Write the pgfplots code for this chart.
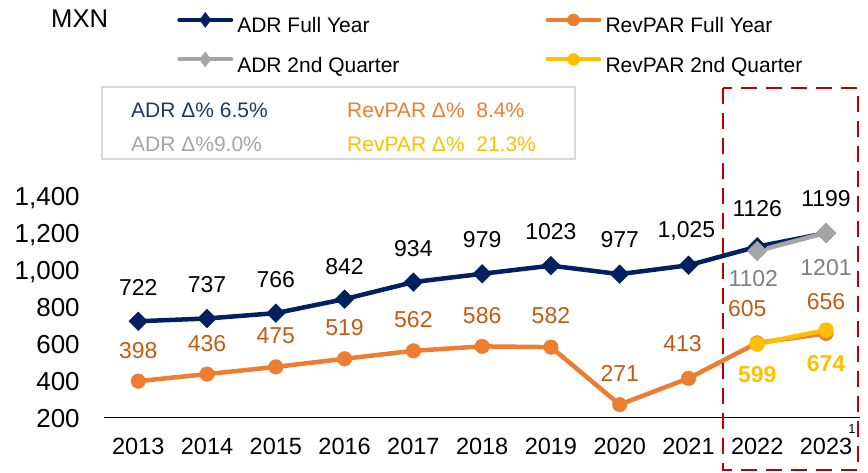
\documentclass[border=0pt]{standalone}
\usepackage{fontspec}
\setmainfont{Liberation Sans}
\usepackage{pgfplots}
\usepackage{pgfplotstable}
\pgfplotsset{compat=1.18}
\definecolor{navy}{HTML}{002060}
\definecolor{orng}{HTML}{ED7D31}
\definecolor{orngdark}{HTML}{C55A11}
\definecolor{gry}{HTML}{A5A5A5}
\definecolor{gryd}{HTML}{808080}
\definecolor{yel}{HTML}{FFC000}
\definecolor{redd}{HTML}{C00000}
\definecolor{boxgray}{HTML}{D9D9D9}
\definecolor{boxnavy}{HTML}{203864}

\pgfplotstableread{
x y label dx dy
0 722 722 0 34
1 737 737 0 34
2 766 766 0 34
3 842 842 0 33
4 934 934 0 34
5 979 979 0 34
6 1023 1023 0 34
7 977 977 0 35
8 1025 1,025 -2 34
9 1126 1126 0 38
10 1199 1199 0 35
}\adrfy

\pgfplotstableread{
x y label dx dy
0 398 398 0 31
1 436 436 0 31
2 475 475 0 31
3 519 519 0 31
4 562 562 0 31
5 586 586 0 31
6 582 582 0 32
7 271 271 0 31
8 413 413 -6 35
9 605 605 -10 34
10 656 656 0 32
}\revfy

\pgfplotstableread{
x y label dx dy
9 1102 1102 -4 -28
10 1201 1201 0 -35
}\adrq

\pgfplotstableread{
x y label dx dy
9 599 599 0 -31
10 674 674 0 -33
}\revq

\begin{document}
\begin{tikzpicture}[x=1pt,y=1pt]
\useasboundingbox (0,0) rectangle (868,472);
\begin{axis}[
  at={(103.9pt,54.3pt)}, anchor=south west,
  scale only axis, width=756.5pt, height=221.7pt,
  xmin=-0.5, xmax=10.5, ymin=200, ymax=1400,
  clip=false,
  axis x line*=bottom, axis y line*=left,
  y axis line style={draw=none},
  x axis line style={-, black, line width=1.2pt},
  xtick={0,1,2,3,4,5,6,7,8,9,10},
  xticklabels={2013,2014,2015,2016,2017,2018,2019,2020,2021,2022,2023},
  ytick={200,400,600,800,1000,1200,1400},
  major tick length=0pt,
  tick style={draw=none},
  /pgf/number format/.cd, 1000 sep={,}, assume math mode=true,
  /pgfplots/.cd,
  yticklabel style={font=\fontsize{26}{30}\selectfont, inner sep=0pt, anchor=base east, xshift=-24pt, yshift=-9.3pt},
  xticklabel style={font=\fontsize{23.5}{28}\selectfont, inner sep=0pt, anchor=base, yshift=-36.7pt},
  legend columns=2,
  legend cell align=left,
  legend style={at={(0.097,1.828)}, anchor=north west, draw=none, fill=none,
    inner sep=0pt, outer sep=0pt, row sep=14pt,
    font=\fontsize{21}{25}\selectfont,
    nodes={inner sep=0pt, text height=16pt, text depth=5pt},
    /tikz/every odd column/.append style={column sep=4pt},
    /tikz/every even column/.append style={column sep=146pt}},
]
\addplot[navy, line width=4.5pt, mark=square*, mark size=6.6pt,
  mark options={rotate=45, line width=0.4pt, solid},
  nodes near coords, point meta=explicit symbolic,
  visualization depends on={\thisrow{dx} \as \dx},
  visualization depends on={\thisrow{dy} \as \dy},
  every node near coord/.append style={font=\fontsize{23}{27}\selectfont, text=black, anchor=center, inner sep=0pt, xshift=\dx, yshift=\dy},
  legend image code/.code={
    \draw[navy, line width=4pt, line cap=round] (2pt,7.5pt) -- (54pt,7.5pt);
    \draw[navy, mark=diamond*, mark size=7.5pt, mark options={line width=0.4pt}] plot coordinates {(28pt,7.5pt)};}]
  table[x=x, y=y, meta=label] {\adrfy};
\addlegendentry{ADR Full Year}
\addplot[orng, line width=4.5pt, mark=*, mark size=7.3pt,
  mark options={line width=0.4pt, solid},
  nodes near coords, point meta=explicit symbolic,
  visualization depends on={\thisrow{dx} \as \dx},
  visualization depends on={\thisrow{dy} \as \dy},
  every node near coord/.append style={font=\fontsize{23}{27}\selectfont, text=orngdark, anchor=center, inner sep=0pt, xshift=\dx, yshift=\dy},
  legend image code/.code={
    \draw[orng, line width=4pt, line cap=round] (2pt,7.5pt) -- (54pt,7.5pt);
    \draw[orng, mark=*, mark size=6pt, mark options={line width=0.4pt}] plot coordinates {(28pt,7.5pt)};}]
  table[x=x, y=y, meta=label] {\revfy};
\addlegendentry{RevPAR Full Year}
\addplot[gry, line width=4.5pt, mark=square*, mark size=7pt,
  mark options={rotate=45, line width=0.4pt, solid},
  nodes near coords, point meta=explicit symbolic,
  visualization depends on={\thisrow{dx} \as \dx},
  visualization depends on={\thisrow{dy} \as \dy},
  every node near coord/.append style={font=\fontsize{23}{27}\selectfont, text=gryd, anchor=center, inner sep=0pt, xshift=\dx, yshift=\dy},
  legend image code/.code={
    \draw[gry, line width=4pt, line cap=round] (2pt,7.5pt) -- (54pt,7.5pt);
    \draw[gry, mark=diamond*, mark size=7.5pt, mark options={line width=0.4pt}] plot coordinates {(28pt,7.5pt)};}]
  table[x=x, y=y, meta=label] {\adrq};
\addlegendentry{ADR 2nd Quarter}
\addplot[yel, line width=4.5pt, mark=*, mark size=7.5pt,
  mark options={line width=0.4pt, solid},
  nodes near coords, point meta=explicit symbolic,
  visualization depends on={\thisrow{dx} \as \dx},
  visualization depends on={\thisrow{dy} \as \dy},
  every node near coord/.append style={font=\bfseries\fontsize{23}{27}\selectfont, text=yel, anchor=center, inner sep=0pt, xshift=\dx, yshift=\dy},
  legend image code/.code={
    \draw[yel, line width=4pt, line cap=round] (2pt,7.5pt) -- (54pt,7.5pt);
    \draw[yel, mark=*, mark size=6pt, mark options={line width=0.4pt}] plot coordinates {(28pt,7.5pt)};}]
  table[x=x, y=y, meta=label] {\revq};
\addlegendentry{RevPAR 2nd Quarter}
\end{axis}

% MXN unit label
\node[anchor=base west, inner sep=0pt, font=\fontsize{25.6}{30}\selectfont] at (51,444.5) {MXN};

% growth box
\draw[boxgray, line width=2pt] (102,385) rectangle (575,313);
\node[anchor=base west, inner sep=0pt, font=\fontsize{21}{25}\selectfont, text=boxnavy] at (131,354.5) {ADR Δ\% 6.5\%};
\node[anchor=base west, inner sep=0pt, font=\fontsize{21}{25}\selectfont, text=gry] at (131,320.5) {ADR Δ\%9.0\%};
\node[anchor=base west, inner sep=0pt, font=\fontsize{21}{25}\selectfont, text=orng] at (347,354.5) {RevPAR Δ\%\ \ 8.4\%};
\node[anchor=base west, inner sep=0pt, font=\fontsize{21}{25}\selectfont, text=yel] at (347,320.5) {RevPAR Δ\%\ \ 21.3\%};

% highlight box
\draw[redd, line width=2pt, dash pattern=on 16pt off 9pt] (723,384) rectangle (858,2);

% footnote marker
\node[anchor=base, inner sep=0pt, font=\fontsize{13}{15}\selectfont] at (852,39) {1};
\end{tikzpicture}
\end{document}
